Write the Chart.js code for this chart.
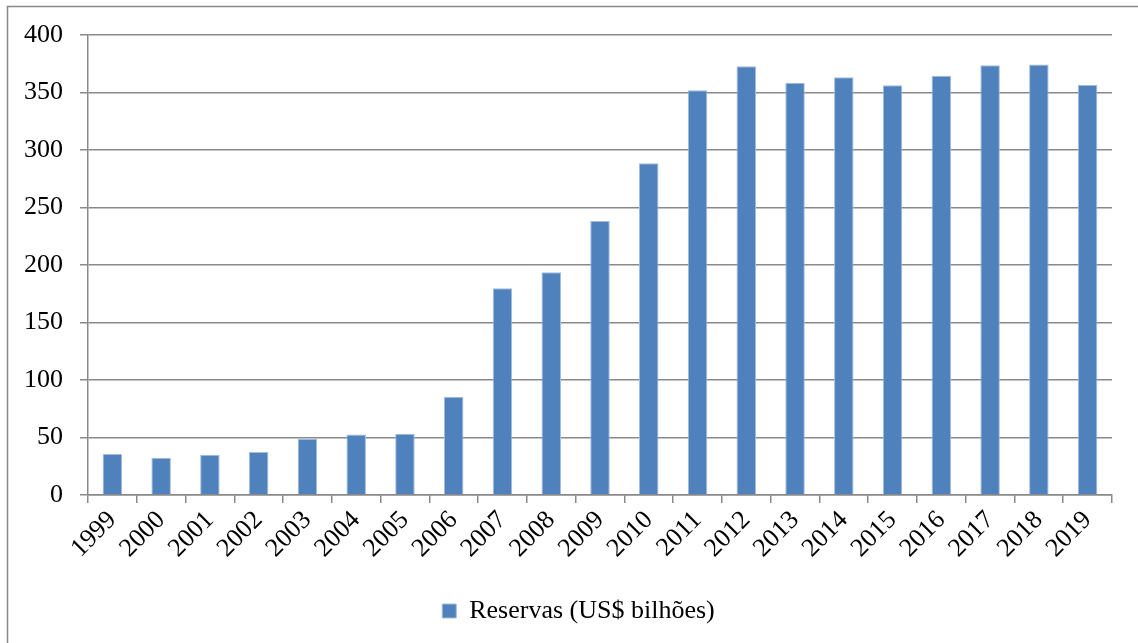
<!DOCTYPE html>
<html>
<head>
<meta charset="utf-8">
<script src="https://cdn.jsdelivr.net/npm/chart.js@4/dist/chart.umd.min.js"></script>
<style>
  html, body { margin: 0; padding: 0; background: #fff; }
  #wrap { width: 1138px; height: 643px; }
</style>
</head>
<body>
<div id="wrap"><canvas id="grafico" width="1138" height="643"></canvas></div>
<script>
// Datos
const anos = ['1999', '2000', '2001', '2002', '2003', '2004', '2005', '2006', '2007', '2008', '2009',
  '2010', '2011', '2012', '2013', '2014', '2015', '2016', '2017', '2018', '2019'];
const reservas = [35.7, 32.4, 35.1, 37.4, 49.0, 52.7, 53.3, 85.5, 179.7, 193.6, 238.3,
  288.4, 351.9, 372.8, 358.5, 363.2, 356.2, 364.6, 373.6, 374.4, 356.5];
const etiquetaSerie = 'Reservas (US$ bilhões)';

const fuente = { family: '"Liberation Serif", "Times New Roman", serif', size: 26 };
const gris = '#898989';

// Marco exterior
const marco = {
  id: 'marco',
  beforeDraw(chart) {
    const ctx = chart.ctx;
    ctx.save();
    ctx.strokeStyle = gris;
    ctx.lineWidth = 1.5;
    ctx.strokeRect(7.5, 6.5, 1300, 800);
    ctx.restore();
  }
};

new Chart(document.getElementById('grafico'), {
  type: 'bar',
  data: {
    labels: anos,
    datasets: [{
      label: etiquetaSerie,
      data: reservas,
      backgroundColor: '#4F81BD',
      borderColor: '#A3BCDD',
      borderWidth: 1,
      categoryPercentage: 1,
      barPercentage: 0.4
    }]
  },
  options: {
    responsive: false,
    animation: false,
    layout: { padding: { top: 35, right: 0, bottom: 9, left: 19 } },
    scales: {
      x: {
        afterFit: s => { s.height = 93; },
        grid: { drawOnChartArea: false, drawTicks: true, tickLength: 8, color: gris, lineWidth: 1.5, offset: true },
        border: { color: gris, width: 1.5 },
        ticks: { color: '#000', font: fuente, minRotation: 45, maxRotation: 45, autoSkip: false, padding: 2 }
      },
      y: {
        min: 0,
        max: 400,
        afterFit: s => { s.width = 69; },
        grid: { color: gris, lineWidth: 1.5, tickLength: 8 },
        border: { color: gris, width: 1.5 },
        ticks: { color: '#000', font: fuente, stepSize: 50, padding: 17 }
      },
      // eje vacío solo para dejar el margen derecho
      margenDer: {
        type: 'linear',
        position: 'right',
        afterFit: s => { s.width = 26; },
        grid: { display: false },
        border: { display: false },
        ticks: { display: false }
      }
    },
    plugins: {
      legend: {
        position: 'bottom',
        labels: { color: '#000', font: fuente, boxWidth: 14, boxHeight: 14 }
      },
      tooltip: { enabled: false }
    }
  },
  plugins: [marco]
});
</script>
</body>
</html>
